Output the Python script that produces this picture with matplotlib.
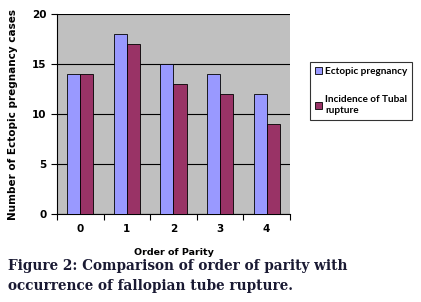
import matplotlib.pyplot as plt
import numpy as np

parity = ['0', '1', '2', '3', '4']
ectopic = [14, 18, 15, 14, 12]
rupture = [14, 17, 13, 12, 9]

fig = plt.figure(figsize=(4.21, 3.02), dpi=100)
ax = fig.add_axes([0.1354, 0.2914, 0.5534, 0.662])
ax.set_facecolor('#c0c0c0')

x = np.arange(len(parity))
w = 0.28
ax.bar(x - w / 2, ectopic, w, color='#9999ff', edgecolor='black', linewidth=0.6,
       label='Ectopic pregnancy', zorder=3)
ax.bar(x + w / 2, rupture, w, color='#993366', edgecolor='black', linewidth=0.6,
       label='Incidence of Tubal\nrupture', zorder=3)

ax.set_xlim(-0.5, 4.5)
ax.set_ylim(0, 20)
ax.set_yticks([0, 5, 10, 15, 20])
ax.yaxis.grid(True, color='black', linewidth=0.8, zorder=1)
ax.set_xticks(x)
ax.set_xticklabels(parity, fontweight='bold', fontsize=7.5)
ax.set_xticks(np.arange(-0.5, 5, 1), minor=True)
ax.tick_params(axis='x', which='major', length=0, pad=7)
ax.tick_params(axis='x', which='minor', length=4, width=0.8)
ax.tick_params(axis='y', length=4, width=0.8, labelsize=7.5)
for t in ax.get_yticklabels():
    t.set_fontweight('bold')
for s in ['top', 'right']:
    ax.spines[s].set_visible(False)

ax.set_ylabel('Number of Ectopic pregnancy cases', fontsize=7.5, fontweight='bold',
              labelpad=10)
ax.set_xlabel('Order of Parity', fontsize=6.8, fontweight='bold', labelpad=10)

leg = fig.legend(loc='upper left', bbox_to_anchor=(0.725, 0.81),
                 prop={'family': 'Lato', 'weight': 'bold', 'size': 7.2},
                 frameon=True, fancybox=False, edgecolor='black', labelspacing=1.9,
                 handlelength=0.7, handleheight=0.7, handletextpad=0.3,
                 borderpad=0.5)
leg.get_frame().set_linewidth(0.8)

fig.text(0.02, 0.105, 'Figure 2: Comparison of order of parity with',
         family='DejaVu Serif', fontweight='bold', fontsize=9.8, color='#1a1a33')
fig.text(0.02, 0.04, 'occurrence of fallopian tube rupture.',
         family='DejaVu Serif', fontweight='bold', fontsize=9.8, color='#1a1a33')

fig.savefig('out.png', dpi=100)
